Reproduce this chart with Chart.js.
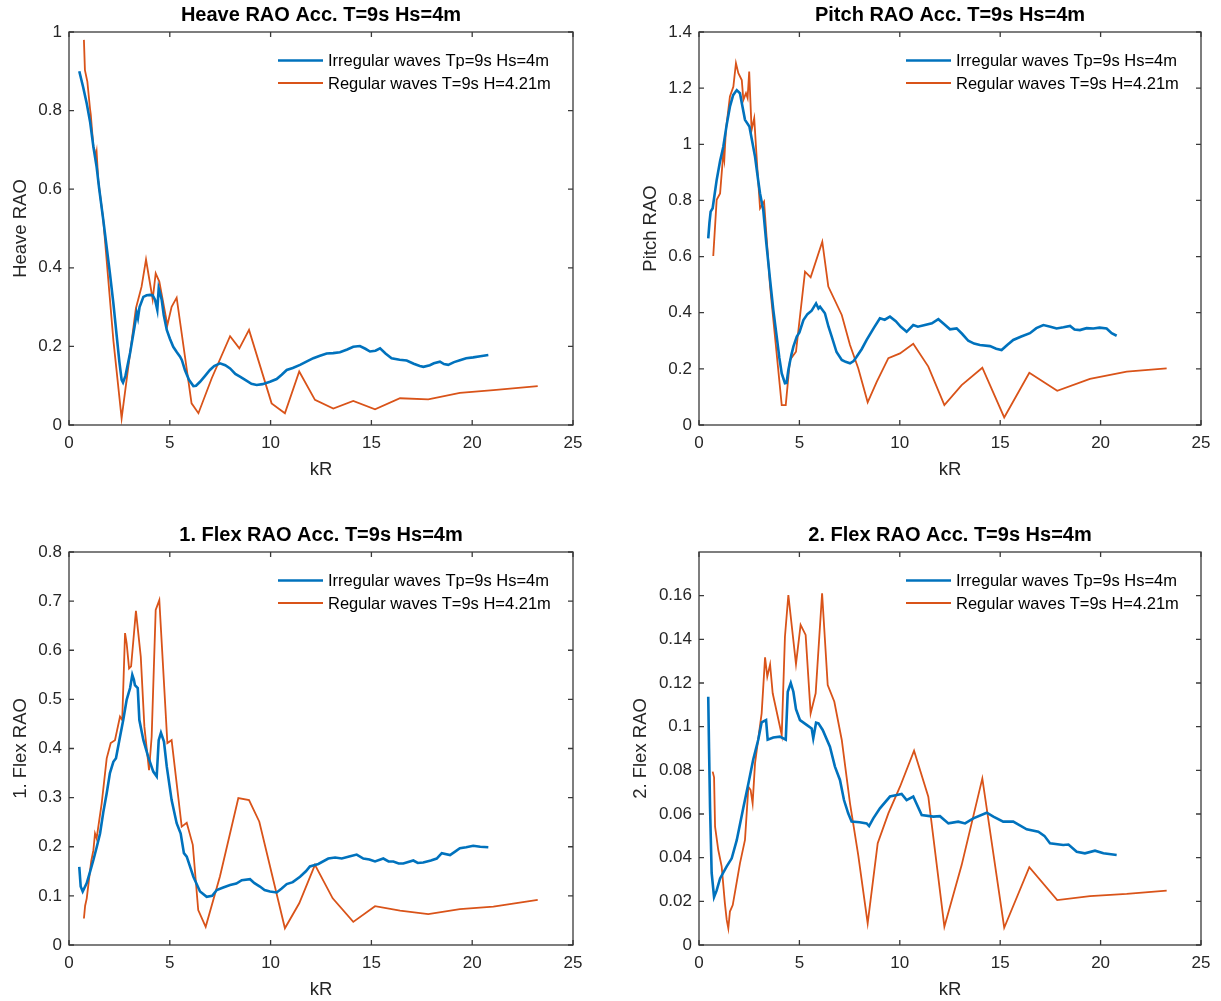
<!DOCTYPE html>
<html>
<head>
<meta charset="utf-8">
<title>RAO Acc. T=9s Hs=4m</title>
<script src="https://cdn.jsdelivr.net/npm/chart.js"></script>
<style>
  html, body { margin: 0; padding: 0; background: #fff; }
  #page { position: relative; width: 1221px; height: 1001px; overflow: hidden; }
  canvas { position: absolute; }
</style>
</head>
<body>
<div id="page">
  <canvas id="heaveChart" width="600" height="481" style="left:0;top:0"></canvas>
  <canvas id="pitchChart" width="591" height="481" style="left:630px;top:0"></canvas>
  <canvas id="flex1Chart" width="600" height="481" style="left:0;top:520px"></canvas>
  <canvas id="flex2Chart" width="591" height="481" style="left:630px;top:520px"></canvas>
</div>
<script>
// kR axis
const kRTicks = [0, 5, 10, 15, 20, 25];

// Heave
const heaveIrrK = [0.51, 0.70, 0.88, 1.05, 1.21, 1.37, 1.50, 1.70, 2.03, 2.20, 2.37, 2.50, 2.61, 2.68, 2.80, 3.03, 3.25, 3.36, 3.42, 3.50, 3.69, 3.85, 4.02, 4.15, 4.27, 4.38, 4.45, 4.52, 4.60, 4.70, 4.85, 5.00, 5.17, 5.35, 5.51, 5.60, 5.75, 5.95, 6.17, 6.30, 6.50, 6.75, 6.99, 7.20, 7.49, 7.75, 7.99, 8.25, 8.48, 8.80, 9.05, 9.31, 9.60, 9.97, 10.30, 10.55, 10.80, 11.10, 11.46, 11.80, 12.12, 12.45, 12.78, 13.10, 13.44, 13.80, 14.10, 14.43, 14.70, 14.93, 15.20, 15.43, 15.70, 16.00, 16.40, 16.75, 17.10, 17.40, 17.58, 17.90, 18.10, 18.40, 18.60, 18.81, 19.10, 19.39, 19.70, 20.05, 20.40, 20.80];
const heaveIrrRAO = [0.900, 0.860, 0.818, 0.770, 0.708, 0.657, 0.600, 0.522, 0.386, 0.310, 0.225, 0.160, 0.115, 0.108, 0.125, 0.183, 0.250, 0.285, 0.272, 0.300, 0.326, 0.330, 0.331, 0.330, 0.318, 0.293, 0.348, 0.335, 0.318, 0.280, 0.242, 0.220, 0.199, 0.185, 0.174, 0.165, 0.140, 0.115, 0.099, 0.100, 0.110, 0.125, 0.140, 0.150, 0.157, 0.152, 0.144, 0.130, 0.123, 0.113, 0.105, 0.102, 0.104, 0.110, 0.117, 0.128, 0.140, 0.145, 0.153, 0.162, 0.170, 0.176, 0.182, 0.183, 0.185, 0.192, 0.199, 0.201, 0.194, 0.187, 0.189, 0.195, 0.182, 0.170, 0.166, 0.164, 0.156, 0.150, 0.148, 0.152, 0.157, 0.161, 0.155, 0.153, 0.160, 0.165, 0.170, 0.172, 0.175, 0.178];
const heaveRegK = [0.74, 0.79, 0.91, 1.04, 1.08, 1.21, 1.27, 1.32, 1.37, 1.45, 1.70, 2.20, 2.61, 3.32, 3.60, 3.82, 3.99, 4.15, 4.30, 4.48, 4.88, 5.09, 5.34, 6.08, 6.42, 7.08, 7.99, 8.45, 8.93, 10.05, 10.71, 11.42, 12.20, 13.11, 14.10, 15.18, 16.42, 17.82, 19.39, 21.05, 23.25];
const heaveRegRAO = [0.980, 0.903, 0.874, 0.806, 0.790, 0.708, 0.700, 0.680, 0.695, 0.623, 0.522, 0.216, 0.017, 0.297, 0.352, 0.421, 0.369, 0.320, 0.386, 0.365, 0.254, 0.301, 0.324, 0.055, 0.030, 0.119, 0.226, 0.195, 0.242, 0.055, 0.030, 0.136, 0.064, 0.042, 0.061, 0.040, 0.068, 0.065, 0.082, 0.089, 0.099];
const heaveYTicks = [0, 0.2, 0.4, 0.6, 0.8, 1];

// Pitch
const pitchIrrK = [0.46, 0.52, 0.58, 0.68, 0.88, 1.05, 1.21, 1.38, 1.54, 1.70, 1.88, 2.04, 2.15, 2.29, 2.51, 2.65, 2.79, 2.95, 3.04, 3.20, 3.35, 3.54, 3.70, 3.87, 4.00, 4.12, 4.28, 4.36, 4.45, 4.60, 4.70, 4.87, 5.00, 5.20, 5.40, 5.61, 5.83, 5.95, 6.03, 6.27, 6.45, 6.61, 6.85, 7.11, 7.30, 7.52, 7.70, 7.85, 8.10, 8.35, 8.70, 9.01, 9.25, 9.51, 9.80, 10.05, 10.34, 10.67, 10.90, 11.25, 11.60, 11.92, 12.20, 12.50, 12.83, 13.10, 13.41, 13.70, 13.99, 14.49, 14.80, 15.07, 15.35, 15.65, 16.05, 16.48, 16.80, 17.15, 17.50, 17.81, 18.15, 18.48, 18.70, 18.97, 19.30, 19.64, 19.95, 20.30, 20.55, 20.80];
const pitchIrrRAO = [0.665, 0.720, 0.760, 0.772, 0.873, 0.940, 0.991, 1.070, 1.134, 1.175, 1.193, 1.182, 1.140, 1.087, 1.063, 1.010, 0.956, 0.870, 0.825, 0.766, 0.650, 0.517, 0.410, 0.315, 0.240, 0.184, 0.149, 0.150, 0.196, 0.250, 0.279, 0.315, 0.330, 0.374, 0.395, 0.407, 0.433, 0.415, 0.421, 0.398, 0.350, 0.315, 0.260, 0.232, 0.225, 0.220, 0.228, 0.243, 0.270, 0.303, 0.345, 0.380, 0.375, 0.386, 0.370, 0.350, 0.332, 0.356, 0.350, 0.356, 0.362, 0.377, 0.360, 0.341, 0.344, 0.325, 0.300, 0.290, 0.285, 0.281, 0.272, 0.267, 0.285, 0.303, 0.315, 0.327, 0.345, 0.356, 0.350, 0.344, 0.348, 0.353, 0.340, 0.338, 0.345, 0.344, 0.347, 0.344, 0.327, 0.318];
const pitchRegK = [0.71, 0.88, 1.05, 1.21, 1.26, 1.34, 1.54, 1.71, 1.84, 1.96, 2.13, 2.21, 2.34, 2.42, 2.50, 2.62, 2.75, 2.90, 3.04, 3.24, 3.54, 4.12, 4.32, 4.53, 4.83, 5.28, 5.56, 6.14, 6.44, 7.11, 7.52, 7.93, 8.40, 8.85, 9.43, 10.01, 10.67, 11.42, 12.22, 13.08, 14.11, 15.20, 16.45, 17.84, 19.47, 21.30, 23.29];
const pitchRegRAO = [0.602, 0.802, 0.825, 0.968, 0.944, 1.051, 1.170, 1.205, 1.289, 1.253, 1.229, 1.158, 1.182, 1.165, 1.259, 1.051, 1.093, 0.920, 0.772, 0.796, 0.493, 0.071, 0.071, 0.232, 0.261, 0.546, 0.526, 0.653, 0.493, 0.392, 0.285, 0.202, 0.081, 0.154, 0.238, 0.255, 0.289, 0.208, 0.071, 0.142, 0.204, 0.027, 0.186, 0.122, 0.164, 0.190, 0.202];
const pitchYTicks = [0, 0.2, 0.4, 0.6, 0.8, 1, 1.2, 1.4];

// 1. Flex
const flex1IrrK = [0.51, 0.58, 0.68, 0.88, 1.05, 1.21, 1.38, 1.54, 1.70, 1.87, 2.03, 2.20, 2.33, 2.53, 2.69, 2.86, 3.03, 3.14, 3.22, 3.27, 3.41, 3.49, 3.69, 3.93, 4.18, 4.35, 4.45, 4.56, 4.71, 4.85, 5.09, 5.34, 5.54, 5.70, 5.84, 6.00, 6.17, 6.50, 6.83, 7.10, 7.33, 7.65, 7.99, 8.30, 8.57, 8.98, 9.20, 9.47, 9.70, 9.97, 10.30, 10.55, 10.80, 11.10, 11.46, 11.75, 11.95, 12.37, 12.86, 13.20, 13.53, 13.90, 14.27, 14.60, 14.90, 15.18, 15.59, 15.85, 16.09, 16.35, 16.58, 17.08, 17.30, 17.57, 17.95, 18.24, 18.49, 18.90, 19.15, 19.39, 19.70, 20.05, 20.40, 20.80];
const flex1IrrRAO = [0.159, 0.119, 0.109, 0.126, 0.150, 0.173, 0.200, 0.227, 0.270, 0.309, 0.350, 0.373, 0.380, 0.424, 0.458, 0.499, 0.523, 0.550, 0.540, 0.529, 0.523, 0.458, 0.417, 0.383, 0.353, 0.343, 0.417, 0.432, 0.414, 0.363, 0.295, 0.248, 0.227, 0.187, 0.180, 0.160, 0.139, 0.109, 0.098, 0.100, 0.112, 0.117, 0.122, 0.125, 0.132, 0.134, 0.126, 0.119, 0.112, 0.109, 0.107, 0.115, 0.124, 0.128, 0.139, 0.150, 0.160, 0.165, 0.176, 0.178, 0.176, 0.180, 0.184, 0.176, 0.174, 0.170, 0.176, 0.170, 0.170, 0.166, 0.166, 0.172, 0.167, 0.168, 0.172, 0.176, 0.187, 0.183, 0.190, 0.197, 0.199, 0.202, 0.200, 0.199];
const flex1RegK = [0.74, 0.80, 0.88, 1.10, 1.21, 1.29, 1.37, 1.62, 1.87, 2.07, 2.28, 2.53, 2.64, 2.78, 2.86, 2.98, 3.08, 3.32, 3.56, 3.74, 3.97, 4.10, 4.30, 4.48, 4.88, 5.09, 5.59, 5.84, 6.14, 6.41, 6.78, 7.49, 8.40, 8.93, 9.44, 10.71, 11.42, 12.20, 13.08, 14.10, 15.18, 16.42, 17.82, 19.39, 21.05, 23.25];
const flex1RegRAO = [0.054, 0.080, 0.095, 0.170, 0.193, 0.227, 0.217, 0.288, 0.380, 0.411, 0.417, 0.465, 0.458, 0.635, 0.614, 0.563, 0.567, 0.680, 0.587, 0.444, 0.356, 0.424, 0.682, 0.702, 0.411, 0.417, 0.241, 0.249, 0.204, 0.071, 0.037, 0.140, 0.299, 0.295, 0.251, 0.034, 0.085, 0.163, 0.095, 0.047, 0.079, 0.070, 0.063, 0.073, 0.078, 0.092];
const flex1YTicks = [0, 0.1, 0.2, 0.3, 0.4, 0.5, 0.6, 0.7, 0.8];

// 2. Flex
const flex2IrrK = [0.46, 0.50, 0.55, 0.63, 0.75, 0.88, 1.05, 1.38, 1.63, 1.88, 2.21, 2.46, 2.70, 2.95, 3.12, 3.34, 3.42, 3.70, 4.03, 4.32, 4.42, 4.57, 4.70, 4.83, 5.03, 5.36, 5.61, 5.69, 5.83, 5.95, 6.16, 6.52, 6.77, 7.02, 7.22, 7.43, 7.60, 8.00, 8.35, 8.47, 8.68, 9.01, 9.51, 9.85, 10.09, 10.34, 10.67, 11.09, 11.67, 12.00, 12.42, 12.91, 13.25, 13.66, 14.33, 14.66, 15.15, 15.65, 16.32, 16.90, 17.20, 17.48, 18.14, 18.40, 18.81, 19.22, 19.72, 20.14, 20.80];
const flex2IrrRAO = [0.1137, 0.0900, 0.0630, 0.0330, 0.0220, 0.0250, 0.0305, 0.0360, 0.0397, 0.0480, 0.0630, 0.0740, 0.0850, 0.0940, 0.1020, 0.1030, 0.0940, 0.0950, 0.0954, 0.0940, 0.1160, 0.1200, 0.1160, 0.1080, 0.1030, 0.1008, 0.0992, 0.0947, 0.1018, 0.1015, 0.0985, 0.0908, 0.0817, 0.0756, 0.0664, 0.0603, 0.0565, 0.0562, 0.0557, 0.0545, 0.0580, 0.0626, 0.0680, 0.0687, 0.0692, 0.0664, 0.0680, 0.0595, 0.0588, 0.0590, 0.0557, 0.0565, 0.0557, 0.0580, 0.0606, 0.0588, 0.0565, 0.0565, 0.0530, 0.0519, 0.0500, 0.0466, 0.0458, 0.0460, 0.0427, 0.0420, 0.0432, 0.0420, 0.0412];
const flex2RegK = [0.68, 0.75, 0.80, 0.96, 1.13, 1.29, 1.38, 1.46, 1.54, 1.68, 1.84, 2.04, 2.29, 2.46, 2.57, 2.67, 2.79, 3.12, 3.29, 3.40, 3.54, 3.67, 4.12, 4.28, 4.45, 4.83, 5.06, 5.31, 5.56, 5.81, 6.13, 6.41, 6.74, 7.11, 7.52, 7.93, 8.40, 8.90, 9.43, 10.01, 10.71, 11.42, 12.22, 13.08, 14.11, 15.20, 16.45, 17.84, 19.47, 21.30, 23.29];
const flex2RegRAO = [0.0794, 0.0768, 0.0542, 0.0435, 0.0359, 0.0191, 0.0115, 0.0076, 0.0153, 0.0183, 0.0267, 0.0374, 0.0481, 0.0725, 0.0710, 0.0649, 0.0832, 0.1061, 0.1318, 0.1229, 0.1285, 0.1153, 0.0962, 0.1412, 0.1603, 0.1287, 0.1466, 0.1420, 0.1061, 0.1153, 0.1611, 0.1191, 0.1114, 0.0939, 0.0649, 0.0412, 0.0099, 0.0466, 0.0603, 0.0725, 0.0890, 0.0679, 0.0084, 0.0366, 0.0763, 0.0079, 0.0356, 0.0206, 0.0224, 0.0234, 0.0249];
const flex2YTicks = [0, 0.02, 0.04, 0.06, 0.08, 0.1, 0.12, 0.14, 0.16];

const irrLabel = 'Irregular waves Tp=9s Hs=4m';
const regLabel = 'Regular waves T=9s H=4.21m';

const FONT = "'Liberation Sans', Arial, Helvetica, sans-serif";
const AXIS_COLOR = '#262626';

function toPoints(k, v) {
    return k.map((x, i) => ({ x: x, y: v[i] }));
}

// box around the axes with inward ticks on all four sides
const axesBox = {
    id: 'axesBox',
    afterDatasetsDraw(chart) {
        const { ctx, chartArea: a, scales } = chart;
        ctx.save();
        ctx.strokeStyle = '#3a3a3a';
        ctx.lineWidth = 1.3;
        ctx.beginPath();
        scales.x.ticks.forEach(t => {
            const px = scales.x.getPixelForValue(t.value);
            ctx.moveTo(px, a.bottom); ctx.lineTo(px, a.bottom - 5);
            ctx.moveTo(px, a.top); ctx.lineTo(px, a.top + 5);
        });
        scales.y.ticks.forEach(t => {
            const py = scales.y.getPixelForValue(t.value);
            ctx.moveTo(a.left, py); ctx.lineTo(a.left + 5, py);
            ctx.moveTo(a.right, py); ctx.lineTo(a.right - 5, py);
        });
        ctx.stroke();
        ctx.strokeRect(a.left, a.top, a.right - a.left, a.bottom - a.top);
        ctx.restore();
    }
};

// legend without frame, top right inside the axes
const insideLegend = {
    id: 'insideLegend',
    afterDraw(chart) {
        const { ctx, chartArea: a } = chart;
        const x0 = a.right - 295;
        ctx.save();
        ctx.font = '16.5px ' + FONT;
        ctx.textBaseline = 'middle';
        ctx.textAlign = 'left';
        chart.data.datasets.forEach((ds, i) => {
            const y = a.top + 28.5 + i * 22.5;
            ctx.strokeStyle = ds.borderColor;
            ctx.lineWidth = ds.borderWidth;
            ctx.beginPath();
            ctx.moveTo(x0, y);
            ctx.lineTo(x0 + 45, y);
            ctx.stroke();
            ctx.fillStyle = '#000';
            ctx.fillText(ds.label, x0 + 50, y + 1);
        });
        ctx.restore();
    }
};

function makeChart(id, p) {
    const canvas = document.getElementById(id);
    const ctx = canvas.getContext('2d');
    const axisHeight = canvas.height - 425;

    new Chart(ctx, {
        type: 'line',
        data: {
            datasets: [{
                label: irrLabel,
                data: toPoints(p.irrK, p.irrV),
                borderColor: '#0072BD',
                borderWidth: 2.6,
                pointRadius: 0,
                tension: 0
            }, {
                label: regLabel,
                data: toPoints(p.regK, p.regV),
                borderColor: '#D95319',
                borderWidth: 1.8,
                pointRadius: 0,
                tension: 0
            }]
        },
        options: {
            responsive: false,
            animation: false,
            devicePixelRatio: 1,
            layout: { padding: { left: 0, right: p.padRight, top: 0, bottom: 0 } },
            plugins: {
                legend: { display: false },
                tooltip: { enabled: false },
                title: {
                    display: true,
                    fullSize: false,
                    text: p.title,
                    color: '#000',
                    font: { family: FONT, size: 20, weight: 'bold', lineHeight: 1 },
                    padding: { top: 5.5, bottom: 6.5 }
                }
            },
            scales: {
                x: {
                    type: 'linear',
                    min: 0,
                    max: 25,
                    afterBuildTicks: s => { s.ticks = kRTicks.map(v => ({ value: v })); },
                    afterFit: s => { s.height = axisHeight; },
                    grid: { display: false, drawTicks: false },
                    border: { display: false },
                    ticks: {
                        color: AXIS_COLOR,
                        padding: 8,
                        maxRotation: 0,
                        font: { family: FONT, size: 17 }
                    },
                    title: {
                        display: true,
                        text: 'kR',
                        color: AXIS_COLOR,
                        font: { family: FONT, size: 18.5, lineHeight: 1 },
                        padding: { top: 0, bottom: 2 }
                    }
                },
                y: {
                    type: 'linear',
                    min: 0,
                    max: p.yMax,
                    afterBuildTicks: s => { s.ticks = p.yTicks.map(v => ({ value: v })); },
                    afterFit: s => { s.width = 69; },
                    grid: { display: false, drawTicks: false },
                    border: { display: false },
                    ticks: {
                        color: AXIS_COLOR,
                        padding: 7,
                        font: { family: FONT, size: 17 },
                        callback: v => String(Number(v.toFixed(4)))
                    },
                    title: {
                        display: true,
                        text: p.yLabel,
                        color: AXIS_COLOR,
                        font: { family: FONT, size: 18.5, lineHeight: 1 },
                        padding: { top: p.yTitlePad, bottom: 0 }
                    }
                }
            }
        },
        plugins: [axesBox, insideLegend]
    });
}

makeChart('heaveChart', {
    title: 'Heave RAO Acc. T=9s Hs=4m', yLabel: 'Heave RAO',
    irrK: heaveIrrK, irrV: heaveIrrRAO, regK: heaveRegK, regV: heaveRegRAO,
    yMax: 1, yTicks: heaveYTicks, padRight: 27, yTitlePad: 12
});
makeChart('pitchChart', {
    title: 'Pitch RAO Acc. T=9s Hs=4m', yLabel: 'Pitch RAO',
    irrK: pitchIrrK, irrV: pitchIrrRAO, regK: pitchRegK, regV: pitchRegRAO,
    yMax: 1.4, yTicks: pitchYTicks, padRight: 20, yTitlePad: 12
});
makeChart('flex1Chart', {
    title: '1. Flex RAO Acc. T=9s Hs=4m', yLabel: '1. Flex RAO',
    irrK: flex1IrrK, irrV: flex1IrrRAO, regK: flex1RegK, regV: flex1RegRAO,
    yMax: 0.8, yTicks: flex1YTicks, padRight: 27, yTitlePad: 12
});
makeChart('flex2Chart', {
    title: '2. Flex RAO Acc. T=9s Hs=4m', yLabel: '2. Flex RAO',
    irrK: flex2IrrK, irrV: flex2IrrRAO, regK: flex2RegK, regV: flex2RegRAO,
    yMax: 0.18, yTicks: flex2YTicks, padRight: 20, yTitlePad: 2
});
</script>
</body>
</html>
